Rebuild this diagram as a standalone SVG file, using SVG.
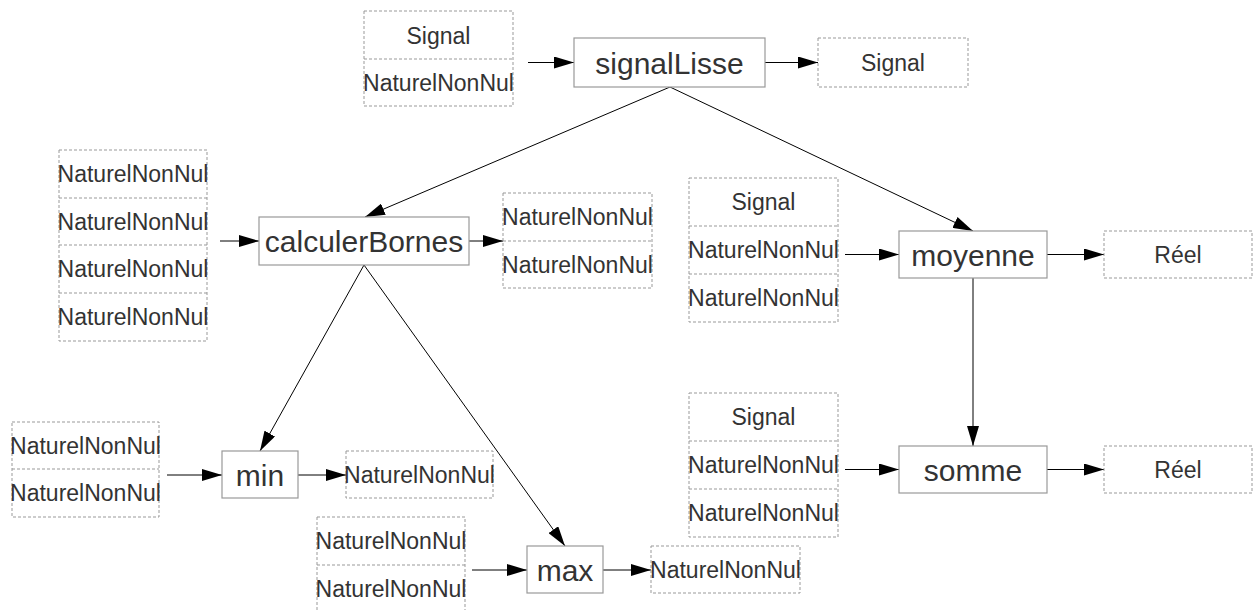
<svg xmlns="http://www.w3.org/2000/svg" width="1255" height="610" viewBox="0 0 1255 610">
<style>
.node{fill:#fff;stroke:#999;stroke-width:1.2}
.port{fill:#fff;stroke:#999;stroke-width:1;stroke-dasharray:3 2}
.div{stroke:#999;stroke-width:1;stroke-dasharray:3 2}
.nt{font-family:"Liberation Sans",Arial,sans-serif;font-size:30px;fill:#333;text-anchor:middle}
.pt{font-family:"Liberation Sans",Arial,sans-serif;font-size:23px;fill:#333;text-anchor:middle}
.e{stroke:#000;stroke-width:1;fill:none;marker-end:url(#ah)}
</style>
<defs>
<marker id="ah" viewBox="0 0 20 12" refX="20" refY="6" markerWidth="20" markerHeight="12" markerUnits="userSpaceOnUse" orient="auto">
<path d="M0,0 L20,6 L0,12 z" fill="#000"/>
</marker>
</defs>
<rect width="1255" height="610" fill="#fff"/>
<g id="connectors">
<line class="e" x1="528" y1="62.5" x2="574" y2="62.5"/>
<line class="e" x1="765" y1="62.5" x2="818" y2="62.5"/>
<line class="e" x1="670" y1="87" x2="365" y2="217"/>
<line class="e" x1="670" y1="87" x2="973" y2="231"/>
<line class="e" x1="220" y1="241" x2="259" y2="241"/>
<line class="e" x1="469" y1="241" x2="503" y2="241"/>
<line class="e" x1="364" y1="265" x2="260" y2="451"/>
<line class="e" x1="364" y1="265" x2="565" y2="546"/>
<line class="e" x1="845" y1="254.5" x2="899" y2="254.5"/>
<line class="e" x1="1047" y1="254.5" x2="1104" y2="254.5"/>
<line class="e" x1="973" y1="278" x2="973" y2="446"/>
<line class="e" x1="845" y1="469.5" x2="899" y2="469.5"/>
<line class="e" x1="1047" y1="469.5" x2="1104" y2="469.5"/>
<line class="e" x1="167" y1="475" x2="222" y2="475"/>
<line class="e" x1="298" y1="475" x2="346" y2="475"/>
<line class="e" x1="472" y1="570" x2="527" y2="570"/>
<line class="e" x1="603" y1="570" x2="651" y2="570"/>
</g>
<g id="signalLisse-in">
<rect class="port" x="364" y="11" width="149" height="95"/>
<line class="div" x1="364" y1="59" x2="513" y2="59"/>
<text class="pt" x="438.5" y="43.5">Signal</text>
<text class="pt" x="438.5" y="91">NaturelNonNul</text>
</g>
<g id="signalLisse">
<rect class="node" x="574" y="38" width="191" height="49"/>
<text class="nt" x="669.5" y="73.5">signalLisse</text>
</g>
<g id="signalLisse-out">
<rect class="port" x="818" y="38" width="150" height="49"/>
<text class="pt" x="893" y="71">Signal</text>
</g>
<g id="calculerBornes-in">
<rect class="port" x="59" y="150" width="148" height="191"/>
<line class="div" x1="59" y1="198" x2="207" y2="198"/>
<line class="div" x1="59" y1="245" x2="207" y2="245"/>
<line class="div" x1="59" y1="293" x2="207" y2="293"/>
<text class="pt" x="133" y="182">NaturelNonNul</text>
<text class="pt" x="133" y="229.5">NaturelNonNul</text>
<text class="pt" x="133" y="277">NaturelNonNul</text>
<text class="pt" x="133" y="325">NaturelNonNul</text>
</g>
<g id="calculerBornes">
<rect class="node" x="259" y="217" width="210" height="48"/>
<text class="nt" x="364" y="252">calculerBornes</text>
</g>
<g id="calculerBornes-out">
<rect class="port" x="503" y="193" width="149" height="95"/>
<line class="div" x1="503" y1="241" x2="652" y2="241"/>
<text class="pt" x="577.5" y="225">NaturelNonNul</text>
<text class="pt" x="577.5" y="272.5">NaturelNonNul</text>
</g>
<g id="moyenne-in">
<rect class="port" x="689" y="178" width="149" height="144"/>
<line class="div" x1="689" y1="226" x2="838" y2="226"/>
<line class="div" x1="689" y1="274" x2="838" y2="274"/>
<text class="pt" x="763.5" y="210">Signal</text>
<text class="pt" x="763.5" y="258">NaturelNonNul</text>
<text class="pt" x="763.5" y="306">NaturelNonNul</text>
</g>
<g id="moyenne">
<rect class="node" x="899" y="231" width="148" height="47"/>
<text class="nt" x="973" y="265.5">moyenne</text>
</g>
<g id="moyenne-out">
<rect class="port" x="1104" y="231" width="148" height="47"/>
<text class="pt" x="1178" y="262.5">Réel</text>
</g>
<g id="somme-in">
<rect class="port" x="689" y="393" width="149" height="144"/>
<line class="div" x1="689" y1="441" x2="838" y2="441"/>
<line class="div" x1="689" y1="489" x2="838" y2="489"/>
<text class="pt" x="763.5" y="425">Signal</text>
<text class="pt" x="763.5" y="473">NaturelNonNul</text>
<text class="pt" x="763.5" y="521">NaturelNonNul</text>
</g>
<g id="somme">
<rect class="node" x="899" y="446" width="148" height="47"/>
<text class="nt" x="973" y="480.5">somme</text>
</g>
<g id="somme-out">
<rect class="port" x="1104" y="446" width="148" height="47"/>
<text class="pt" x="1178" y="477.5">Réel</text>
</g>
<g id="min-in">
<rect class="port" x="12" y="422" width="147" height="95"/>
<line class="div" x1="12" y1="469" x2="159" y2="469"/>
<text class="pt" x="85.5" y="453.5">NaturelNonNul</text>
<text class="pt" x="85.5" y="501">NaturelNonNul</text>
</g>
<g id="min">
<rect class="node" x="222" y="451" width="76" height="47"/>
<text class="nt" x="260" y="485.5">min</text>
</g>
<g id="min-out">
<rect class="port" x="346" y="451" width="147" height="47"/>
<text class="pt" x="419.5" y="482.5">NaturelNonNul</text>
</g>
<g id="max-in">
<rect class="port" x="317" y="517" width="148" height="96"/>
<line class="div" x1="317" y1="565" x2="465" y2="565"/>
<text class="pt" x="391" y="549">NaturelNonNul</text>
<text class="pt" x="391" y="597">NaturelNonNul</text>
</g>
<g id="max">
<rect class="node" x="527" y="546" width="76" height="47"/>
<text class="nt" x="565" y="580.5">max</text>
</g>
<g id="max-out">
<rect class="port" x="651" y="546" width="149" height="47"/>
<text class="pt" x="725.5" y="577.5">NaturelNonNul</text>
</g>
</svg>
